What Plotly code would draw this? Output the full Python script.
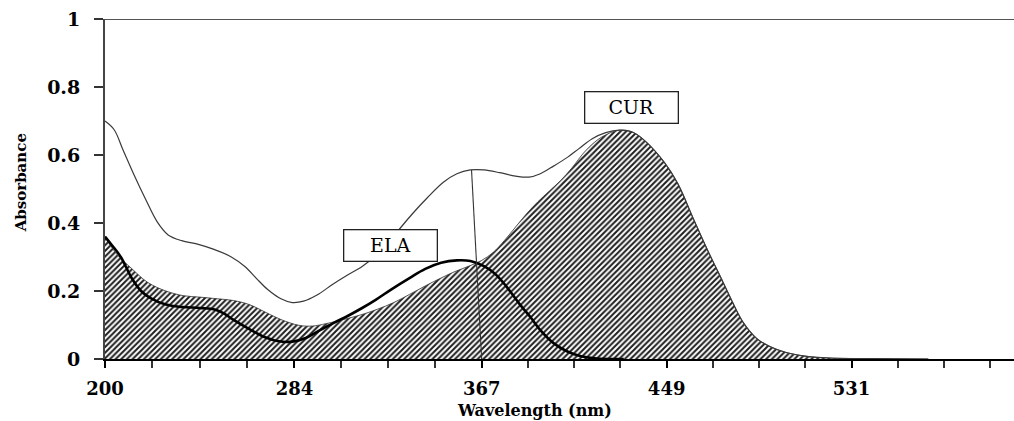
import numpy as np
import plotly.graph_objects as go

# ---------------- data ----------------
mix_wl = [200, 204, 208, 213, 218, 223, 228, 234, 241, 248, 256, 262, 267, 272, 278, 283,
          288, 294, 301, 307, 314, 321, 329, 336, 343, 350, 356, 362, 368, 375, 382, 388,
          393, 399, 405, 410, 416, 422, 428, 434, 440, 448, 454, 461, 467, 473, 478, 483,
          489, 495, 502, 511, 521, 540, 565]
mix_abs = [0.70, 0.675, 0.615, 0.54, 0.47, 0.405, 0.365, 0.348, 0.338, 0.323, 0.300, 0.272,
           0.238, 0.205, 0.177, 0.166, 0.170, 0.188, 0.220, 0.245, 0.272, 0.310, 0.370,
           0.425, 0.475, 0.520, 0.545, 0.556, 0.556, 0.548, 0.538, 0.535, 0.545, 0.568,
           0.593, 0.618, 0.648, 0.666, 0.673, 0.667, 0.638, 0.578, 0.515, 0.410, 0.322,
           0.240, 0.170, 0.107, 0.060, 0.036, 0.019, 0.008, 0.003, 0.001, 0.0]

cur_wl = [200, 205, 212, 219, 227, 235, 242, 250, 257, 264, 271, 278, 286, 292, 298, 308,
          315, 321, 328, 335, 342, 348, 354, 362, 367, 372, 377, 382, 387, 392, 397, 402,
          407, 413, 420, 428, 434, 440, 448, 454, 461, 467, 473, 478, 483, 489, 495, 502,
          511, 521, 540, 565]
cur_abs = [0.36, 0.31, 0.265, 0.225, 0.200, 0.186, 0.182, 0.177, 0.172, 0.160, 0.138,
           0.116, 0.099, 0.097, 0.104, 0.120, 0.133, 0.147, 0.166, 0.190, 0.215, 0.235,
           0.254, 0.275, 0.290, 0.313, 0.348, 0.388, 0.428, 0.463, 0.494, 0.525, 0.562,
           0.612, 0.652, 0.673, 0.667, 0.638, 0.578, 0.515, 0.410, 0.322, 0.240, 0.170,
           0.107, 0.060, 0.036, 0.019, 0.008, 0.003, 0.001, 0.0]

ela_wl = [200, 203, 207, 212, 216, 220, 227, 234, 242, 249, 253, 257, 264, 271, 277, 283,
          289, 294, 301, 308, 314, 320, 327, 335, 342, 349, 356, 362, 368, 373, 378, 384,
          389, 393, 399, 405, 411, 417, 424, 430]
ela_abs = [0.36, 0.335, 0.300, 0.236, 0.200, 0.180, 0.160, 0.153, 0.150, 0.145, 0.133,
           0.115, 0.088, 0.064, 0.052, 0.051, 0.062, 0.080, 0.105, 0.128, 0.150, 0.174,
           0.205, 0.238, 0.265, 0.283, 0.290, 0.288, 0.273, 0.250, 0.213, 0.160, 0.120,
           0.085, 0.046, 0.022, 0.008, 0.002, 0.0, 0.0]

peak_line_wl = [362.5, 367]
peak_line_abs = [0.556, 0.0]

x_tick_vals = [200, 284, 367, 449, 531]
y_tick_vals = [0, 0.2, 0.4, 0.6, 0.8, 1]

labels = ["ELA", "CUR"]
label_wl = [326.5, 433.5]
label_abs = [0.334, 0.741]

# minor ticks: 4 intervals between labelled ticks
minor_vals = []
ext = x_tick_vals + [x_tick_vals[-1] + (x_tick_vals[-1] - x_tick_vals[-2])]
for a, b in zip(ext[:-1], ext[1:]):
    minor_vals += list(np.linspace(a, b, 5)[:-1])

SERIF = "DejaVu Serif"
SMOOTH = 1.0

fig = go.Figure()

fig.add_trace(go.Scatter(
    x=cur_wl, y=cur_abs, mode="lines", name="CUR",
    line=dict(color="#333333", width=0.8, shape="spline", smoothing=SMOOTH),
    fill="tozeroy", fillcolor="white",
    fillpattern=dict(shape="/", fgcolor="#1e1e1e", bgcolor="white",
                     size=4, solidity=0.5, fgopacity=1),
))
fig.add_trace(go.Scatter(
    x=ela_wl, y=ela_abs, mode="lines", name="ELA",
    line=dict(color="black", width=2.6, shape="spline", smoothing=SMOOTH),
))
fig.add_trace(go.Scatter(
    x=mix_wl, y=mix_abs, mode="lines", name="Mixture",
    line=dict(color="#3a3a3a", width=1.2, shape="spline", smoothing=SMOOTH),
))
fig.add_trace(go.Scatter(
    x=peak_line_wl, y=peak_line_abs, mode="lines", name="peak",
    line=dict(color="#333333", width=1.1),
))

for t, xv, yv in zip(labels, label_wl, label_abs):
    fig.add_annotation(
        x=xv, y=yv, xref="x", yref="y", text=t, showarrow=False,
        font=dict(family=SERIF, size=19, color="black"),
        bgcolor="white", bordercolor="#222", borderwidth=1.3, borderpad=1,
        width=90, height=28, xanchor="center", yanchor="middle",
    )

fig.add_annotation(
    x=0.473, y=-0.152, xref="paper", yref="paper", text="<b>Wavelength (nm)</b>",
    showarrow=False, font=dict(family=SERIF, size=16, color="black"),
    xanchor="center", yanchor="middle",
)
fig.add_annotation(
    x=-0.093, y=0.518, xref="paper", yref="paper", text="<b>Absorbance</b>",
    showarrow=False, textangle=-90, font=dict(family=SERIF, size=15, color="black"),
    xanchor="center", yanchor="middle",
)

fig.add_shape(type="line", xref="paper", yref="y", x0=0, x1=1, y0=1, y1=1,
              line=dict(color="#555555", width=2))

fig.update_layout(
    width=1014, height=421,
    margin=dict(l=105, r=0, t=19, b=62),
    paper_bgcolor="white", plot_bgcolor="white",
    showlegend=False,
    xaxis=dict(
        range=[200, 603], tickvals=x_tick_vals, ticktext=[str(v) for v in x_tick_vals],
        showgrid=False, zeroline=False, showline=True, linecolor="black", linewidth=2,
        ticks="outside", ticklen=7, tickwidth=1.5, tickcolor="black",
        tickfont=dict(family=SERIF, size=18, color="black", weight="bold"),
        ticklabelstandoff=5,
        minor=dict(tickvals=minor_vals, ticks="outside", ticklen=7, tickwidth=1.5,
                   tickcolor="#333", showgrid=False),
    ),
    yaxis=dict(
        range=[0, 1], tickvals=y_tick_vals,
        showgrid=False, zeroline=False, showline=True, linecolor="#444", linewidth=2,
        ticks="outside", ticklen=9, tickwidth=1.5, tickcolor="#333",
        tickfont=dict(family=SERIF, size=19, color="black", weight="bold"),
        ticklabelstandoff=10,
    ),
)

fig.write_html("out.html")
